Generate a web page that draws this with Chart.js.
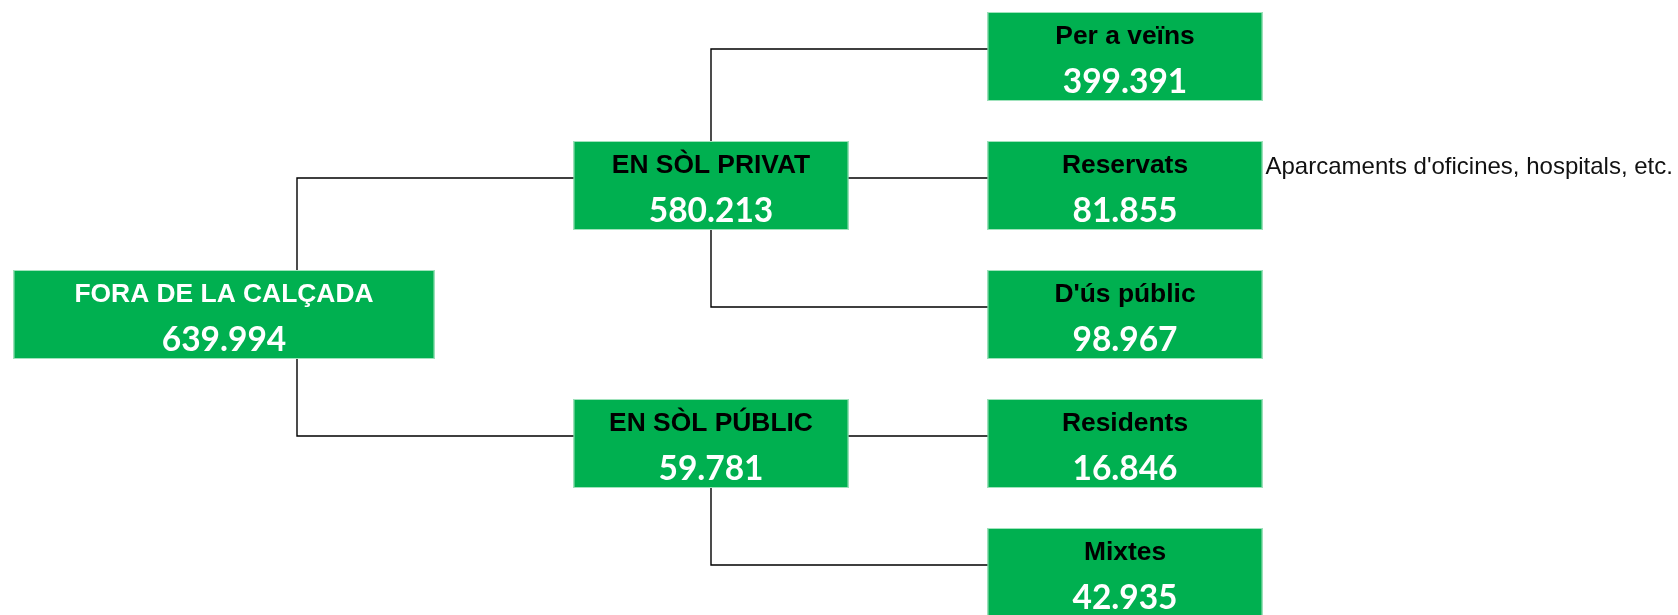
<!DOCTYPE html>
<html>
<head>
<meta charset="utf-8">
<script src="https://cdn.jsdelivr.net/npm/chart.js@4"></script>
<style>
  html, body { margin: 0; padding: 0; background: #ffffff; }
  #wrap { width: 1678px; height: 615px; position: relative; }
</style>
</head>
<body>
<div id="wrap"><canvas id="c" width="1678" height="615"></canvas></div>
<script>
// ---- data ----
const nodeLabels  = ['FORA DE LA CALÇADA', 'EN SÒL PRIVAT', 'EN SÒL PÚBLIC', 'Per a veïns', 'Reservats', "D'ús públic", 'Residents', 'Mixtes'];
const nodeValues  = [639994, 580213, 59781, 399391, 81855, 98967, 16846, 42935];
const nodeParents = [-1, 0, 0, 1, 1, 1, 2, 2];
const nodeNotes   = ['', '', '', '', "Aparcaments d'oficines, hospitals, etc.", '', '', ''];

// ---- structural layout (depth / row from tree) ----
const n = nodeLabels.length;
const depth = nodeLabels.map((_, i) => { let d = 0, p = nodeParents[i]; while (p >= 0) { d++; p = nodeParents[p]; } return d; });
const children = nodeLabels.map((_, i) => nodeParents.map((p, j) => p === i ? j : -1).filter(j => j >= 0));
const row = new Array(n).fill(null);
let leafCounter = 0;
function assign(i) {
  if (children[i].length === 0) { row[i] = leafCounter++; return; }
  children[i].forEach(assign);
  const m = children[i].reduce((s, c) => s + row[c], 0) / children[i].length;
  row[i] = Math.floor(m);
}
nodeParents.forEach((p, i) => { if (p < 0) assign(i); });

function fmt(v) { return String(v).replace(/\B(?=(\d{3})+(?!\d))/g, '.'); }

const nodePoints = nodeLabels.map((_, i) => ({ x: depth[i], y: row[i] }));
const linkSets = [];
nodeParents.forEach((p, i) => {
  if (p < 0) return;
  linkSets.push({
    type: 'line',
    data: [{ x: depth[p], y: row[p] }, { x: depth[i], y: row[i] }],
    stepped: 'after',
    borderColor: '#000000',
    borderWidth: 1.4,
    pointRadius: 0,
    fill: false,
    clip: false
  });
});

const boxPlugin = {
  id: 'boxes',
  afterDatasetsDraw(chart) {
    const ctx = chart.ctx;
    const meta = chart.getDatasetMeta(0);
    ctx.save();
    meta.data.forEach((pt, i) => {
      const cx = pt.x, cy = pt.y;
      const right = cx + 137.5;
      const w = depth[i] === 0 ? 421 : 275;
      const left = right - w;
      const top = cy - 37;
      const h = 89;
      ctx.fillStyle = '#00B050';
      ctx.fillRect(left, top, w, h);
      ctx.strokeStyle = 'rgba(200,240,215,0.8)';
      ctx.lineWidth = 1;
      ctx.strokeRect(left + 0.5, top + 0.5, w - 1, h - 1);
      const mid = left + w / 2;
      ctx.textAlign = 'center';
      ctx.textBaseline = 'alphabetic';
      ctx.font = 'bold 26.4px "Liberation Sans", Arial, sans-serif';
      ctx.fillStyle = depth[i] === 0 ? '#ffffff' : '#000000';
      ctx.fillText(nodeLabels[i], mid, top + 31.5);
      ctx.font = 'bold 33.5px Lato, "Open Sans", sans-serif';
      ctx.fillStyle = '#ffffff';
      ctx.fillText(fmt(nodeValues[i]), mid, top + 80.5);
      if (nodeNotes[i]) {
        ctx.textAlign = 'left';
        ctx.font = '24px "Liberation Sans", Arial, sans-serif';
        ctx.fillStyle = '#111111';
        ctx.fillText(nodeNotes[i], right + 3, top + 33);
      }
    });
    ctx.restore();
  }
};

const xMin = -297 / 414, yMin = -49 / 129;
new Chart(document.getElementById('c'), {
  type: 'scatter',
  data: {
    datasets: [
      { data: nodePoints, pointRadius: 0, showLine: false },
      ...linkSets
    ]
  },
  options: {
    responsive: false,
    animation: false,
    events: [],
    layout: { padding: 0 },
    plugins: { legend: { display: false }, tooltip: { enabled: false } },
    scales: {
      x: { type: 'linear', display: false, min: xMin, max: xMin + 1678 / 414 },
      y: { type: 'linear', display: false, reverse: true, min: yMin, max: yMin + 615 / 129 }
    }
  },
  plugins: [boxPlugin]
});
</script>
</body>
</html>
